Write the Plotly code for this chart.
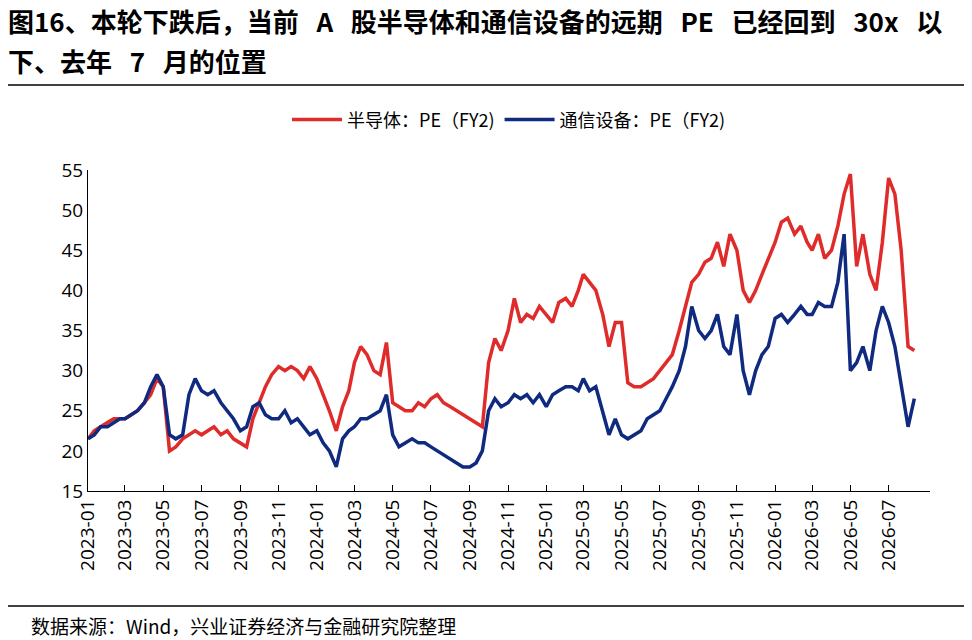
import plotly.graph_objects as go

YEARS_MONTHS = [(y, m) for y in (2023, 2024, 2025, 2026) for m in range(1, 13)][:44]
DAYS = [1, 11, 21]
DATES = [f"{y}-{m:02d}-{d:02d}" for (y, m) in YEARS_MONTHS for d in DAYS]
DATES = [d for d in DATES if d <= "2026-08-11"]

SEMI = [21.5, 22.5, 23, 23.5, 24, 24, 24, 24.5, 25, 26, 27, 29,
        28, 20, 20.5, 21.5, 22, 22.5, 22, 22.5, 23, 22, 22.5, 21.5,
        21, 20.5, 24, 26, 28, 29.5, 30.5, 30, 30.5, 30, 29, 30.5,
        29, 27, 25, 22.5, 25.5, 27.5, 31, 33, 32, 30, 29.5, 33.5,
        26, 25.5, 25, 25, 26, 25.5, 26.5, 27, 26, 25.5, 25, 24.5,
        24, 23.5, 23, 31, 34, 32.5, 35, 39, 36, 37, 36.5, 38,
        37, 36, 38.5, 39, 38, 40, 42, 41, 40, 37, 33, 36,
        36, 28.5, 28, 28, 28.5, 29, 30, 31, 32, 35, 38, 41,
        42, 43.5, 44, 46, 43, 47, 45, 40, 38.5, 40, 42, 44,
        46, 48.5, 49, 47, 48, 46, 45, 47, 44, 45, 48, 52,
        54.5, 43, 47, 42, 40, 46, 54, 52, 45, 33, 32.5]
COMM = [21.5, 22, 23, 23, 23.5, 24, 24, 24.5, 25, 26, 28, 29.5,
        28, 22, 21.5, 22, 27, 29, 27.5, 27, 27.5, 26, 25, 24,
        22.5, 23, 25.5, 26, 24.5, 24, 24, 25, 23.5, 24, 23, 22,
        22.5, 21, 20, 18, 21.5, 22.5, 23, 24, 24, 24.5, 25, 27,
        22, 20.5, 21, 21.5, 21, 21, 20.5, 20, 19.5, 19, 18.5, 18,
        18, 18.5, 20, 25, 26.5, 25.5, 26, 27, 26.5, 27, 26, 27,
        25.5, 27, 27.5, 28, 28, 27.5, 29, 27.5, 28, 25, 22, 24,
        22, 21.5, 22, 22.5, 24, 24.5, 25, 26.5, 28, 30, 33, 38,
        35, 34, 35, 37, 33, 32, 37, 30, 27, 30, 32, 33,
        36.5, 37, 36, 37, 38, 37, 37, 38.5, 38, 38, 41, 47,
        30, 31, 33, 30, 35, 38, 36, 33, 28, 23, 26.5]

TICKS = [f"{y}-{m:02d}" for (y, m) in YEARS_MONTHS if m % 2 == 1 and f"{y}-{m:02d}" <= "2026-07"]
TITLE1 = "图16、本轮下跌后，当前   A   股半导体和通信设备的远期   PE   已经回到   30x   以"
TITLE2 = "下、去年   7   月的位置"
SOURCE = "数据来源：Wind，兴业证券经济与金融研究院整理"

fig = go.Figure()
fig.add_trace(go.Scatter(x=DATES, y=SEMI, mode="lines", name="半导体：PE（FY2)",
                         line=dict(color="#e02b2b", width=3.5)))
fig.add_trace(go.Scatter(x=DATES, y=COMM, mode="lines", name="通信设备：PE（FY2)",
                         line=dict(color="#0f2a7f", width=3.5)))

font = "Noto Sans CJK SC"
fig.update_layout(
    width=972, height=640, paper_bgcolor="white", plot_bgcolor="white",
    margin=dict(l=80, r=50, t=162, b=157),
    font=dict(family=font, size=17, color="#000"),
    showlegend=True,
    legend=dict(orientation="h", x=0.5, xanchor="center", y=1.156, yanchor="middle",
                font=dict(size=18), itemwidth=50),
    xaxis=dict(tickvals=[t + "-01" for t in TICKS], ticktext=TICKS, tickangle=-90,
               range=["2023-01-01", "2026-09-05"], showline=True, linecolor="#000",
               ticks="inside", ticklen=6, tickcolor="#000", showgrid=False,
               tickfont=dict(size=19, family="Open Sans")),
    yaxis=dict(range=[15, 55], dtick=5, showline=True, linecolor="#000", showgrid=False,
               ticks="", zeroline=False, tickfont=dict(size=19, family="Open Sans")),
    annotations=[
        dict(xref="paper", yref="paper", x=-0.097, y=1.465, xanchor="left", yanchor="middle",
             showarrow=False, text=f"<b>{TITLE1}</b>", font=dict(size=26, family=font)),
        dict(xref="paper", yref="paper", x=-0.097, y=1.34, xanchor="left", yanchor="middle",
             showarrow=False, text=f"<b>{TITLE2}</b>", font=dict(size=26, family=font)),
        dict(xref="paper", yref="paper", x=-0.07, y=-0.37, xanchor="left", yanchor="top",
             showarrow=False, text=SOURCE, font=dict(size=19, family=font)),
    ],
    shapes=[
        dict(type="line", xref="paper", yref="paper", x0=-0.097, x1=1.045, y0=1.265, y1=1.265,
             line=dict(color="#000", width=1.5)),
        dict(type="line", xref="paper", yref="paper", x0=-0.097, x1=1.045, y0=-0.358, y1=-0.358,
             line=dict(color="#000", width=1.5)),
    ],
)
fig.write_html("out.html")
